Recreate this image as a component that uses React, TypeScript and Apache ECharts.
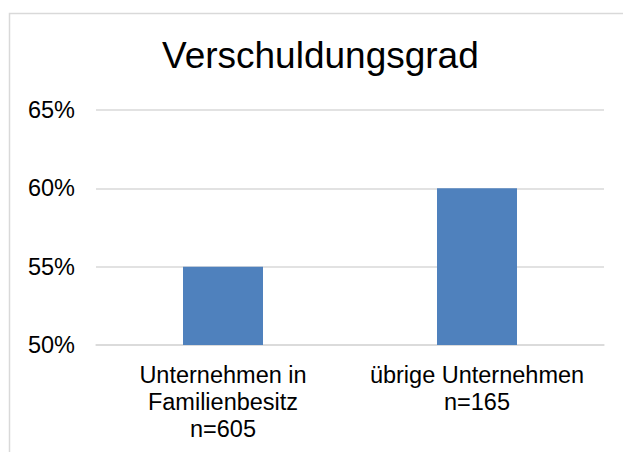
import React, { useEffect, useRef } from "react";
import * as echarts from "echarts";

const titleText = "Verschuldungsgrad";
const categories = ["Unternehmen in\nFamilienbesitz\nn=605", "übrige Unternehmen\nn=165"];
const values = [55, 60];
const yMin = 50;
const yMax = 65;
const yInterval = 5;

const FONT = "'Liberation Sans', Arial, sans-serif";

export default function App() {
  const ref = useRef<HTMLDivElement>(null);
  useEffect(() => {
    if (!ref.current) return;
    const chart = echarts.init(ref.current, null, { renderer: "svg" });
    chart.setOption({
      animation: false,
      backgroundColor: "#ffffff",
      title: {
        text: titleText,
        left: 162,
        top: 37,
        padding: 0,
        textStyle: { fontFamily: FONT, fontSize: 37, fontWeight: "normal", color: "#000000", lineHeight: 37 },
      },
      graphic: [
        {
          type: "rect",
          shape: { x: 9.5, y: 13.5, width: 700, height: 600 },
          style: { fill: "none", stroke: "#d9d9d9", lineWidth: 1.5 },
          z: -1,
        },
      ],
      grid: { left: 96, right: 19, top: 110, bottom: 107, containLabel: false },
      xAxis: {
        type: "category",
        data: categories,
        axisLine: { show: true, lineStyle: { color: "#d9d9d9", width: 1.5 } },
        axisTick: { show: false },
        axisLabel: {
          interval: 0,
          margin: 16,
          fontFamily: FONT,
          fontSize: 23.5,
          lineHeight: 27,
          color: "#000000",
          align: "center",
        },
      },
      yAxis: {
        type: "value",
        min: yMin,
        max: yMax,
        interval: yInterval,
        axisLine: { show: false },
        axisTick: { show: false },
        splitLine: { show: true, lineStyle: { color: "#d9d9d9", width: 1.5 } },
        axisLabel: {
          formatter: "{value}%",
          margin: 21,
          fontFamily: FONT,
          fontSize: 23.5,
          color: "#000000",
        },
      },
      series: [
        {
          type: "bar",
          data: values,
          barWidth: 80,
          itemStyle: { color: "#4f81bd" },
        },
      ],
    });
    return () => chart.dispose();
  }, []);
  return (
    <div
      ref={ref}
      style={{ position: "fixed", left: 0, top: 0, width: 623, height: 452 }}
    />
  );
}
